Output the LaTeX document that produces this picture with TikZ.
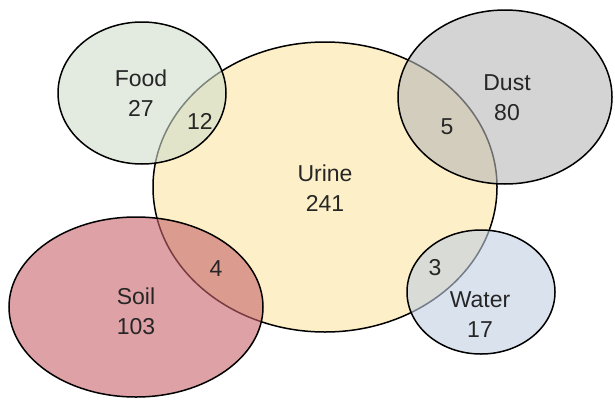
\documentclass[tikz,border=0pt]{standalone}
\usepackage{fontspec}
\setmainfont{Liberation Sans}
\begin{document}
\begin{tikzpicture}[x=1pt,y=-1pt,
  set/.style={line width=1.5pt, draw=black, fill opacity=0.6, draw opacity=1},
  lbl/.style={font=\fontsize{23}{30}\selectfont, align=center, text=black!85, inner sep=0pt}]
\useasboundingbox (0,0) rectangle (615,399);
\definecolor{urinec}{RGB}{253,239,199}
\definecolor{foodc}{RGB}{208,222,203}
\definecolor{dustc}{RGB}{183,183,183}
\definecolor{soilc}{RGB}{199,99,107}
\definecolor{waterc}{RGB}{193,207,227}
% Urine
\draw[line width=1.5pt, fill=urinec] (325,187) ellipse [x radius=172, y radius=145];
% others
\draw[set, fill=foodc] (142,93) ellipse [x radius=84, y radius=71];
\draw[set, fill=dustc] (505,97) ellipse [x radius=107, y radius=87];
\draw[set, fill=soilc] (136,307) ellipse [x radius=127, y radius=90];
\draw[set, fill=waterc] (481,292) ellipse [x radius=74, y radius=62];
% labels
\node[lbl] (urine) at (325,188) {Urine\\241};
\node[lbl] (food) at (141,93) {Food\\27};
\node[lbl] (dust) at (507,98) {Dust\\80};
\node[lbl] (soil) at (136,311) {Soil\\103};
\node[lbl] (water) at (480,315) {Water\\17};
\node[lbl] (fu) at (200,121) {12};
\node[lbl] (du) at (447,127) {5};
\node[lbl] (su) at (216,269) {4};
\node[lbl] (wu) at (435,268) {3};
\end{tikzpicture}
\end{document}
